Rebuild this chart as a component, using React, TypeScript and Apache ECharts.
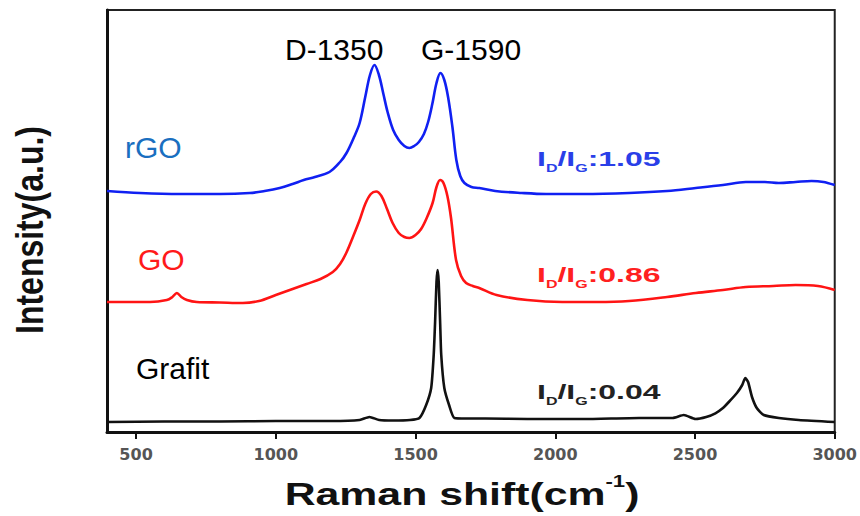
import React, { useEffect, useRef } from "react";
import * as echarts from "echarts";

// Raman shift (cm-1) and intensity (a.u., with vertical stacking offsets)
const rgoShift = [396, 514, 657, 800, 907, 960, 1014, 1060, 1100, 1140, 1192, 1230, 1253, 1280, 1300, 1320, 1337, 1353, 1369, 1385, 1400, 1420, 1440, 1460, 1478, 1495, 1512, 1530, 1545, 1560, 1575, 1589, 1603, 1617, 1632, 1646, 1660, 1675, 1700, 1728, 1785, 1880, 1967, 2100, 2264, 2400, 2503, 2600, 2682, 2750, 2800, 2860, 2917, 2960, 3000];
const rgoIntensity = [241, 239, 238, 238, 239, 241, 244, 248, 252, 255, 260, 270, 279, 295, 309, 335, 357, 367, 357, 338, 320, 302, 292, 286, 284, 286, 290, 298, 310, 328, 349, 359, 352, 334, 305, 272, 256, 249, 245, 244, 241, 239, 238, 238, 239, 241, 244, 247, 250, 250, 249, 250, 251, 250, 247];

const goShift = [396, 550, 610, 630, 646, 662, 682, 717, 800, 882, 940, 1000, 1060, 1110, 1160, 1204, 1230, 1252, 1276, 1300, 1320, 1340, 1359, 1378, 1398, 1418, 1440, 1460, 1478, 1500, 1520, 1540, 1561, 1575, 1588, 1600, 1614, 1627, 1645, 1663, 1681, 1705, 1728, 1790, 1900, 2025, 2150, 2264, 2400, 2503, 2600, 2682, 2780, 2860, 2940, 3000];
const goIntensity = [130, 130, 132, 135, 139, 135, 132, 130, 129.5, 129, 131, 137, 143, 148, 153, 160, 168, 179, 195, 212, 228, 238, 240.5, 236, 223, 209, 199, 195, 194, 197, 203, 214, 229, 245, 252, 249, 236, 214, 172, 156, 149, 146, 144, 137, 132, 130, 130, 131, 135, 139, 142, 145, 146, 147, 146, 142];

const grafitShift = [396, 600, 800, 1000, 1200, 1300, 1335, 1370, 1420, 1480, 1514, 1538, 1556, 1565, 1570, 1575, 1579, 1583, 1588, 1592, 1603, 1620, 1639, 1680, 1750, 1900, 2100, 2300, 2420, 2460, 2502, 2540, 2573, 2600, 2621, 2650, 2669, 2680, 2690, 2704, 2721, 2746, 2800, 2871, 3000];
const grafitIntensity = [10, 10.5, 10.5, 11, 11, 12, 15, 12, 11.5, 12, 14, 27, 44, 77, 110, 150, 162, 150, 110, 77, 44, 27, 14, 13.5, 13.5, 13, 13, 14, 14, 17, 13, 15, 18.7, 24, 30, 39, 47, 54, 50, 35, 24, 17, 14, 12, 10];

const shiftTicks = [500, 1000, 1500, 2000, 2500, 3000];
const seriesNames = ["rGO", "GO", "Grafit"];
const ratioLabels = ["1.05", "0.86", "0.04"];
const peakLabels = ["D-1350", "G-1590"];

const zip = (xs: number[], ys: number[]) => xs.map((x, i) => [x, ys[i]]);

const FONT = "'Liberation Sans', Arial, Helvetica, sans-serif";

function ratioText(val: string, color: string, x: number, y: number) {
  return {
    type: "text",
    x,
    y,
    scaleX: 1.6,
    silent: true,
    style: {
      text: `{m|I}{s|D}{m|/I}{s|G}{m|:${val}}`,
      align: "left",
      verticalAlign: "middle",
      textAlign: "left",
      textVerticalAlign: "middle",
      fill: color,
      rich: {
        m: { fontSize: 20, fontWeight: "bold", fontFamily: FONT, lineHeight: 30, fill: color, verticalAlign: "middle" },
        s: { fontSize: 10, fontWeight: "bold", fontFamily: FONT, lineHeight: 8, fill: color, verticalAlign: "bottom" },
      },
    },
  };
}

function plainText(text: string, color: string, x: number, y: number, size = 30) {
  return {
    type: "text",
    x,
    y,
    silent: true,
    style: {
      text,
      fill: color,
      font: `${size}px ${FONT}`,
      align: "left",
      verticalAlign: "middle",
      textAlign: "left",
      textVerticalAlign: "middle",
    },
  };
}

export default function App() {
  const ref = useRef<HTMLDivElement>(null);
  useEffect(() => {
    if (!ref.current) return;
    const chart = echarts.init(ref.current, undefined, { renderer: "svg" });
    const option: any = {
      animation: false,
      backgroundColor: "#ffffff",
      grid: {
        left: 107,
        right: 23,
        top: 10,
        bottom: 84,
        show: true,
        borderColor: "#222",
        borderWidth: 2,
        containLabel: false,
      },
      xAxis: {
        type: "value",
        min: 396,
        max: 3000,
        axisLine: { show: true, onZero: false, lineStyle: { color: "#111", width: 3 } },
        axisTick: { show: true, length: 7, inside: false, customValues: shiftTicks, lineStyle: { color: "#111", width: 2 } },
        axisLabel: {
          customValues: shiftTicks,
          formatter: (v: number) => String(v),
          fontFamily: "'DejaVu Sans', sans-serif",
          fontSize: 16,
          fontWeight: "bold",
          color: "#555",
          margin: 14,
        },
        splitLine: { show: false },
      },
      yAxis: {
        type: "value",
        min: 0,
        max: 422,
        axisLine: { show: true, onZero: false, lineStyle: { color: "#111", width: 3 } },
        axisTick: { show: false },
        axisLabel: { show: false },
        splitLine: { show: false },
      },
      series: [
        { name: seriesNames[0], type: "line", data: zip(rgoShift, rgoIntensity), color: "#1020f2", smooth: 0.35 },
        { name: seriesNames[1], type: "line", data: zip(goShift, goIntensity), color: "#ff1414", smooth: 0.35 },
        { name: seriesNames[2], type: "line", data: zip(grafitShift, grafitIntensity), color: "#111111", smooth: 0.2 },
      ].map((s) => ({
        ...s,
        showSymbol: false,
        lineStyle: { width: 2.6, color: s.color },
        clip: true,
      })),
      graphic: [
        plainText(peakLabels[0], "#000", 285, 49),
        plainText(peakLabels[1], "#000", 421, 49),
        plainText(seriesNames[0], "#1a6fc0", 125, 147),
        plainText(seriesNames[1], "#ff1a1a", 138, 259),
        plainText(seriesNames[2], "#000", 136, 368),
        ratioText(ratioLabels[0], "#2a3fe8", 537, 159),
        ratioText(ratioLabels[1], "#ff2020", 537, 275),
        ratioText(ratioLabels[2], "#222", 537, 392),
        {
          type: "text",
          x: 462,
          y: 494,
          scaleX: 1.38,
          silent: true,
          style: {
            text: "{b|Raman shift(cm}{p|-1}{b|)}",
            align: "center",
            verticalAlign: "middle",
            textAlign: "center",
            textVerticalAlign: "middle",
            fill: "#111",
            rich: {
              b: { fontSize: 31, fontWeight: "bold", fontFamily: FONT, lineHeight: 40, fill: "#111", verticalAlign: "middle" },
              p: { fontSize: 16, fontWeight: "bold", fontFamily: FONT, lineHeight: 16, fill: "#111", verticalAlign: "top" },
            },
          },
        },
        {
          type: "text",
          x: 29,
          y: 230,
          rotation: Math.PI / 2,
          scaleY: 1.2,
          silent: true,
          style: {
            text: "Intensity(a.u.)",
            font: `bold 32px ${FONT}`,
            fill: "#111",
            align: "center",
            verticalAlign: "middle",
            textAlign: "center",
            textVerticalAlign: "middle",
          },
        },
      ],
    };
    chart.setOption(option);
    return () => chart.dispose();
  }, []);
  return <div ref={ref} style={{ position: "fixed", left: 0, top: 0, width: 860, height: 516 }} />;
}
